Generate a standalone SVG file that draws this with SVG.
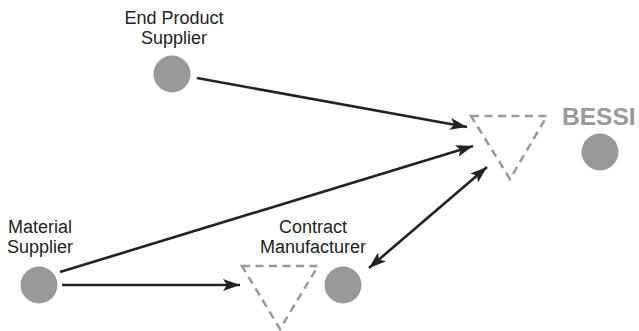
<svg xmlns="http://www.w3.org/2000/svg" width="639" height="331" viewBox="0 0 639 331">
<style>
.lbl{font-family:"Liberation Sans",Arial,sans-serif;font-size:18px;fill:#222;text-anchor:middle}
.node{fill:#999}
.tri{fill:none;stroke:#999;stroke-width:2.5;stroke-dasharray:8 5.5}
.conn{stroke:#222;stroke-width:2.6;fill:none}
.bessi{font-family:"Liberation Sans",Arial,sans-serif;font-size:24.5px;font-weight:bold;fill:#999}
</style>
<defs>
<marker id="ah" markerUnits="userSpaceOnUse" markerWidth="18" markerHeight="14" refX="17" refY="6" orient="auto-start-reverse" viewBox="0 0 18 12">
<path d="M0,0 L17,6 L0,12 L4,6 z" fill="#222"/>
</marker>
</defs>
<rect width="639" height="331" fill="#fff"/>
<g id="connectors">
<line class="conn" x1="197" y1="78" x2="467" y2="127" marker-end="url(#ah)"/>
<line class="conn" x1="60" y1="272" x2="473" y2="146" marker-end="url(#ah)"/>
<line class="conn" x1="62" y1="285" x2="240" y2="285" marker-end="url(#ah)"/>
<line class="conn" x1="369" y1="268" x2="487" y2="167" marker-start="url(#ah)" marker-end="url(#ah)"/>
</g>
<g id="end-product-supplier">
<text class="lbl" x="174" y="24">End Product</text>
<text class="lbl" x="174" y="44">Supplier</text>
<circle class="node" cx="172" cy="74" r="18.5"/>
</g>
<g id="material-supplier">
<text class="lbl" x="40" y="233">Material</text>
<text class="lbl" x="40" y="253">Supplier</text>
<circle class="node" cx="39" cy="285" r="18.5"/>
</g>
<g id="contract-manufacturer">
<text class="lbl" x="313" y="233">Contract</text>
<text class="lbl" x="313" y="253">Manufacturer</text>
<circle class="node" cx="343" cy="285" r="18.5"/>
</g>
<g id="contract-triangle">
<polygon class="tri" points="242,266 318,266 280,329"/>
</g>
<g id="bessi-triangle">
<polygon class="tri" points="471,116 547,116 510,179"/>
</g>
<g id="bessi">
<text class="bessi" x="562" y="125">BESSI</text>
<circle class="node" cx="600" cy="152" r="18.5"/>
</g>
</svg>
